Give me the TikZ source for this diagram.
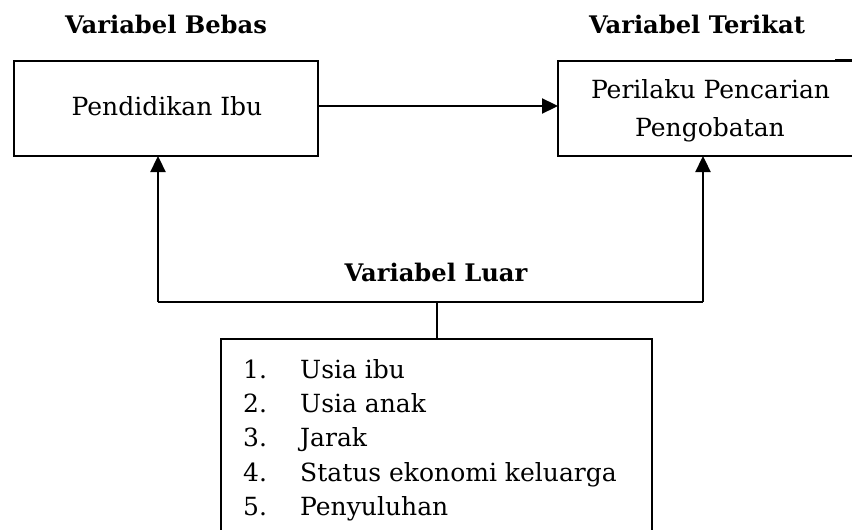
\documentclass[tikz,border=0pt]{standalone}
\usepackage{fontspec}
\setmainfont{DejaVu Serif}
\usetikzlibrary{arrows.meta}
\begin{document}
\begin{tikzpicture}[x=1pt,y=-1pt,
  frame/.style={draw, line width=1.6pt, inner sep=0pt, outer sep=0pt},
  conn/.style={line width=2.3pt},
  arr/.style={conn, -{Triangle[length=16pt,width=15pt]}},
  title/.style={font=\fontsize{24.2}{28}\selectfont\bfseries, anchor=base, inner sep=0pt},
  body/.style={font=\fontsize{25}{29}\selectfont, anchor=base, inner sep=0pt},
  item/.style={font=\fontsize{25}{29}\selectfont, anchor=base west, inner sep=0pt}]
\useasboundingbox (0,0) rectangle (852,530);
\clip (0,0) rectangle (852,530);
% boxes
\node[frame, minimum width=304pt, minimum height=95pt, anchor=north west] (pend) at (14,61) {};
\node[frame, minimum width=320pt, minimum height=95pt, anchor=north west] (peri) at (558,61) {};
\node[frame, minimum width=431pt, minimum height=220pt, anchor=north west] (luar) at (221,339) {};
\draw[line width=1.8pt] (835,60) -- (852,60);
% titles
\node[title] (tb) at (166,34) {Variabel Bebas};
\node[title] (tt) at (697,34) {Variabel Terikat};
\node[title] (tl) at (436,281) {Variabel Luar};
% box texts
\node[body] (tp) at (167,115) {Pendidikan Ibu};
\node[body] (tr1) at (710.5,98) {Perilaku Pencarian};
\node[body] (tr2) at (710,136.5) {Pengobatan};
% list
\foreach \n/\t [count=\k from 0] in {1/Usia ibu,2/Usia anak,3/Jarak,4/Status ekonomi keluarga,5/Penyuluhan}{
  \node[item] (num\n) at (243,378.3+34.3*\k) {\n.};
  \node[item] (txt\n) at (300,378.3+34.3*\k) {\t};
}
% connectors
\coordinate (jl) at (158,302);
\coordinate (jr) at (703,302);
\coordinate (jm) at (437,302);
\coordinate (ha) at (0,106);
\draw[arr] (pend.east |- ha) -- (peri.west |- ha);
\draw[arr] (jl) -- (jl |- pend.south);
\draw[arr] (jr) -- (jr |- peri.south);
\draw[conn] (jl) -- (jr);
\draw[line width=1.8pt] (jm) -- (jm |- luar.north);
\end{tikzpicture}
\end{document}
